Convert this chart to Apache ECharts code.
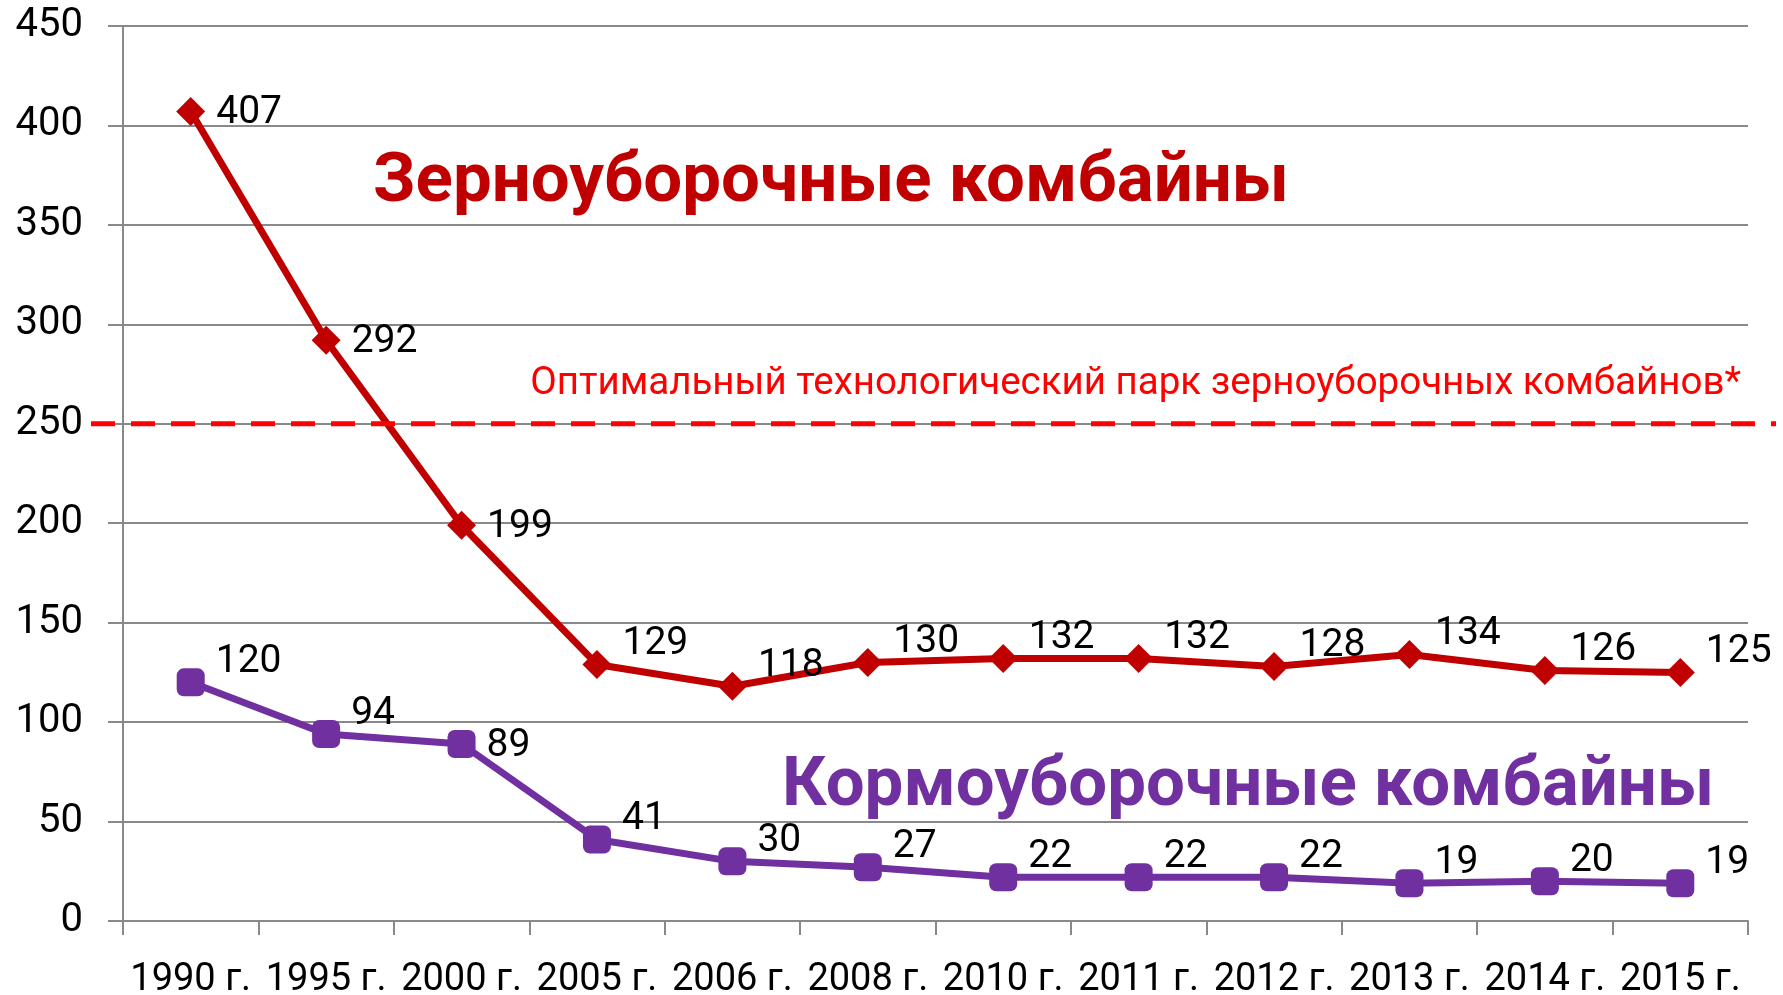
<!DOCTYPE html>
<html>
<head>
<meta charset="utf-8">
<script src="https://cdn.jsdelivr.net/npm/echarts@6/dist/echarts.min.js"></script>
<style>
  html, body { margin: 0; padding: 0; background: #fff; }
  #main { width: 1783px; height: 995px; }
</style>
</head>
<body>
<div id="main"></div>
<script>
var years = ['1990 г.', '1995 г.', '2000 г.', '2005 г.', '2006 г.', '2008 г.',
             '2010 г.', '2011 г.', '2012 г.', '2013 г.', '2014 г.', '2015 г.'];
var grainCombines = [407, 292, 199, 129, 118, 130, 132, 132, 128, 134, 126, 125]; // зерноуборочные
var forageCombines = [120, 94, 89, 41, 30, 27, 22, 22, 22, 19, 20, 19];           // кормоуборочные
var optimalPark = 250; // оптимальный парк
var yMin = 0, yMax = 450, yStep = 50;

var FONT = 'Roboto';
var gridColor = '#898989';

// подписи без подъёма (стоят ровно справа от точки)
var grainFlat = [0, 1, 2];
var forageFlat = [2];

function labelled(values, flat) {
  return values.map(function (v, i) {
    return {
      value: v,
      label: { offset: [0, flat.indexOf(i) >= 0 ? 2 : -20] }
    };
  });
}

var myChart = echarts.init(document.getElementById('main'));
var option = {
  animation: false,
  grid: { left: 123, right: 35, top: 26, bottom: 74, containLabel: false, outerBoundsMode: 'none' },
  xAxis: {
    type: 'category',
    data: years,
    boundaryGap: true,
    axisLine: { lineStyle: { color: gridColor, width: 2 } },
    axisTick: { show: true, length: 14, lineStyle: { color: gridColor, width: 2 } },
    axisLabel: { color: '#000', fontFamily: FONT, fontSize: 38, margin: 40, interval: 0 }
  },
  yAxis: {
    type: 'value',
    min: yMin,
    max: yMax,
    interval: yStep,
    axisLine: { show: true, lineStyle: { color: gridColor, width: 2 } },
    axisTick: { show: true, length: 15, lineStyle: { color: gridColor, width: 2 } },
    splitLine: { lineStyle: { color: gridColor, width: 2 } },
    axisLabel: { color: '#000', fontFamily: FONT, fontSize: 40, margin: 40 }
  },
  series: [
    {
      name: 'Зерноуборочные комбайны',
      type: 'line',
      data: labelled(grainCombines, grainFlat),
      symbol: 'diamond',
      symbolSize: 29,
      lineStyle: { color: '#C00000', width: 7 },
      itemStyle: { color: '#C00000' },
      label: {
        show: true, position: 'right', distance: 11,
        color: '#000', fontFamily: FONT, fontSize: 39
      },
      z: 3
    },
    {
      name: 'Кормоуборочные комбайны',
      type: 'line',
      data: labelled(forageCombines, forageFlat),
      symbol: 'roundRect',
      symbolSize: 28,
      lineStyle: { color: '#7030A0', width: 7 },
      itemStyle: { color: '#7030A0' },
      label: {
        show: true, position: 'right', distance: 11,
        color: '#000', fontFamily: FONT, fontSize: 39
      },
      z: 3
    }
  ]
};
myChart.setOption(option);

// пунктир оптимального парка и надписи
var yOpt = myChart.convertToPixel({ yAxisIndex: 0 }, optimalPark);
myChart.setOption({
  graphic: [
    {
      type: 'line',
      shape: { x1: 91, y1: yOpt, x2: 1776, y2: yOpt },
      style: { stroke: '#FF0000', lineWidth: 5, lineDash: [24, 16] },
      z: 10
    },
    {
      type: 'text',
      style: {
        x: 1741, y: yOpt - 39,
        text: 'Оптимальный технологический парк зерноуборочных комбайнов*',
        fill: '#FF0000', font: '38.5px Roboto',
        align: 'right', verticalAlign: 'middle'
      },
      z: 10
    },
    {
      type: 'text',
      style: {
        x: 373, y: 184,
        text: 'Зерноуборочные комбайны',
        fill: '#C00000', font: 'bold 69px Roboto',
        align: 'left', verticalAlign: 'middle'
      },
      z: 10
    },
    {
      type: 'text',
      style: {
        x: 782, y: 788,
        text: 'Кормоуборочные комбайны',
        fill: '#7030A0', font: 'bold 69px Roboto',
        align: 'left', verticalAlign: 'middle'
      },
      z: 10
    }
  ]
});
</script>
</body>
</html>
